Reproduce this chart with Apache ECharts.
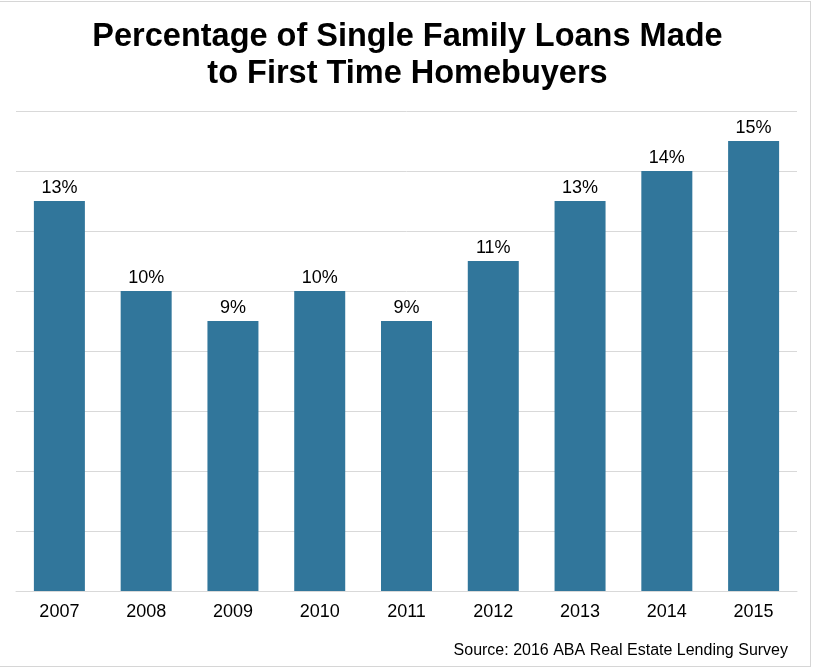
<!DOCTYPE html>
<html><head><meta charset="utf-8">
<script src="https://cdn.jsdelivr.net/npm/echarts@6/dist/echarts.min.js"></script>
<style>
html,body{margin:0;padding:0;background:#fff;}
#frame{position:absolute;left:0;top:1px;width:810px;height:664px;border:1px solid #d6d6d6;border-left:none;}
#c{position:absolute;left:0;top:0;width:815px;height:668px;}
</style></head><body>
<div id="frame"></div>
<div id="c"></div>
<script>
const categories = ['2007','2008','2009','2010','2011','2012','2013','2014','2015'];
const values = [13, 10, 9, 10, 9, 11, 13, 14, 15];
const titleText = 'Percentage of Single Family Loans Made\nto First Time Homebuyers';
const sourceText = 'Source: 2016 ABA Real Estate Lending Survey';

const chart = echarts.init(document.getElementById('c'), null, {renderer:'canvas'});
chart.setOption({
  animation:false,
  backgroundColor:'transparent',
  title:[{
    text:titleText, left:'center', top:14,
    textStyle:{fontFamily:'Liberation Sans, Arial, sans-serif', fontWeight:'bold', fontSize:32.5, color:'#000', lineHeight:37}
  },{
    text:sourceText, right:22, top:638,
    textStyle:{fontFamily:'Liberation Sans, Arial, sans-serif', fontWeight:'normal', fontSize:16, color:'#000'}
  }],
  grid:{left:16, right:18, top:111, bottom:77, containLabel:false},
  xAxis:{
    type:'category', data:categories,
    axisLine:{show:true, lineStyle:{color:'#d9d9d9', width:1}},
    axisTick:{show:false},
    axisLabel:{fontFamily:'Liberation Sans, Arial, sans-serif', fontSize:18, color:'#000', margin:12}
  },
  yAxis:{
    type:'value', min:0, max:16, interval:2,
    axisLabel:{show:false}, axisLine:{show:false}, axisTick:{show:false},
    splitLine:{lineStyle:{color:'#d9d9d9', width:1}}
  },
  series:[{
    type:'bar', data:values, barWidth:51,
    itemStyle:{color:'#31769b'},
    label:{show:true, position:'top', distance:4, formatter:'{c}%',
      fontFamily:'Liberation Sans, Arial, sans-serif', fontSize:18, color:'#000'}
  }]
});
</script>
</body></html>
